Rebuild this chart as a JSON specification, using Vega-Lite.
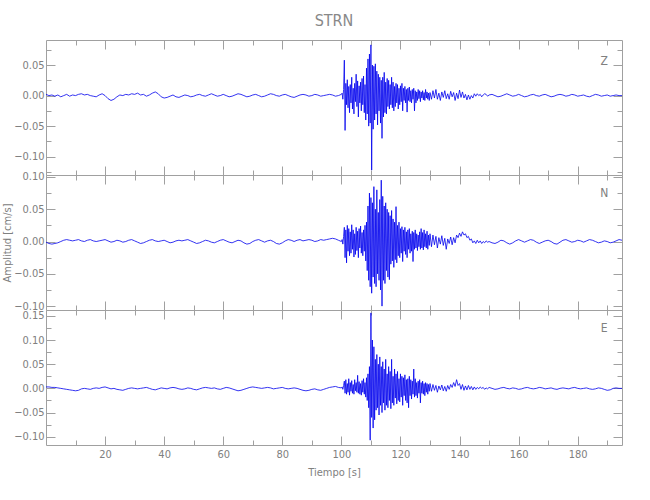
{
"$schema": "https://vega.github.io/schema/vega-lite/v6.json",
"padding": {"left": 1, "right": 27, "top": 13, "bottom": 5},
"spacing": 0,
"bounds": "flush",
"title": {"text": "STRN", "fontSize": 16, "fontWeight": "normal", "font": "Liberation Sans Narrow, DejaVu Sans Condensed, sans-serif", "color": "#888888", "anchor": "middle", "frame": "group", "offset": 10},
"config": {
  "view": {"stroke": "#a0a0a0", "strokeWidth": 1},
  "axis": {"domain": false, "grid": false, "tickColor": "#a0a0a0", "tickWidth": 1, "labelColor": "#808080", "labelFont": "Liberation Sans Narrow, DejaVu Sans Condensed, sans-serif", "labelFontSize": 11, "titleFont": "Liberation Sans Narrow, DejaVu Sans Condensed, sans-serif", "titleFontSize": 11, "titleFontWeight": "normal", "titleColor": "#808080", "labelOverlap": false, "labelFlush": false},
  "text": {"font": "Liberation Sans Narrow, DejaVu Sans Condensed, sans-serif"}
},
"datasets": {"w": [
{"t":0,"z":0.002,"n":-0.001,"e":0.003},
{"t":1,"z":0.000,"n":-0.003,"e":0.003},
{"t":2,"z":0.001,"n":-0.004,"e":0.002},
{"t":3,"z":-0.001,"n":-0.003,"e":0.002},
{"t":4,"z":0.001,"n":-0.002,"e":0.001},
{"t":5,"z":-0.002,"n":0.000,"e":0.000},
{"t":6,"z":0.000,"n":0.002,"e":-0.001},
{"t":7,"z":0.002,"n":0.003,"e":-0.002},
{"t":8,"z":-0.001,"n":0.002,"e":-0.003},
{"t":9,"z":0.001,"n":0.001,"e":-0.004},
{"t":10,"z":0.000,"n":0.002,"e":-0.005},
{"t":11,"z":0.002,"n":0.003,"e":-0.004},
{"t":12,"z":0.003,"n":0.001,"e":-0.001},
{"t":13,"z":0.001,"n":0.000,"e":0.000},
{"t":14,"z":0.002,"n":0.002,"e":-0.001},
{"t":15,"z":0.000,"n":0.003,"e":-0.002},
{"t":16,"z":-0.001,"n":0.001,"e":0.000},
{"t":17,"z":-0.002,"n":0.000,"e":0.001},
{"t":18,"z":0.001,"n":0.001,"e":0.000},
{"t":19,"z":0.003,"n":0.002,"e":0.002},
{"t":20,"z":0.000,"n":0.003,"e":0.003},
{"t":21,"z":-0.005,"n":0.001,"e":0.001},
{"t":22,"z":-0.008,"n":-0.001,"e":-0.001},
{"t":23,"z":-0.006,"n":0.000,"e":0.000},
{"t":24,"z":-0.002,"n":0.002,"e":-0.002},
{"t":25,"z":0.001,"n":0.001,"e":-0.003},
{"t":26,"z":0.000,"n":-0.001,"e":-0.004},
{"t":27,"z":0.002,"n":0.000,"e":-0.002},
{"t":28,"z":0.001,"n":0.002,"e":0.000},
{"t":29,"z":0.003,"n":0.003,"e":0.001},
{"t":30,"z":0.002,"n":0.001,"e":0.000},
{"t":31,"z":0.004,"n":-0.001,"e":-0.001},
{"t":32,"z":0.001,"n":-0.003,"e":0.000},
{"t":33,"z":0.002,"n":-0.002,"e":0.001},
{"t":34,"z":-0.001,"n":0.000,"e":0.002},
{"t":35,"z":0.001,"n":0.002,"e":0.000},
{"t":36,"z":0.004,"n":0.003,"e":-0.002},
{"t":37,"z":0.006,"n":0.001,"e":-0.003},
{"t":38,"z":0.003,"n":0.000,"e":-0.001},
{"t":39,"z":-0.002,"n":0.001,"e":0.001},
{"t":40,"z":-0.004,"n":0.002,"e":0.000},
{"t":41,"z":-0.003,"n":0.000,"e":-0.001},
{"t":42,"z":-0.001,"n":-0.002,"e":0.001},
{"t":43,"z":0.001,"n":-0.001,"e":0.002},
{"t":44,"z":-0.002,"n":0.001,"e":0.001},
{"t":45,"z":-0.003,"n":0.002,"e":-0.001},
{"t":46,"z":-0.001,"n":0.001,"e":-0.002},
{"t":47,"z":0.001,"n":0.002,"e":-0.001},
{"t":48,"z":0.000,"n":0.003,"e":0.001},
{"t":49,"z":-0.002,"n":0.001,"e":0.000},
{"t":50,"z":-0.001,"n":-0.001,"e":-0.002},
{"t":51,"z":0.001,"n":-0.003,"e":-0.003},
{"t":52,"z":0.002,"n":-0.002,"e":-0.001},
{"t":53,"z":0.000,"n":0.000,"e":0.001},
{"t":54,"z":-0.001,"n":0.002,"e":0.002},
{"t":55,"z":0.001,"n":0.001,"e":0.001},
{"t":56,"z":0.003,"n":-0.001,"e":0.000},
{"t":57,"z":0.001,"n":-0.002,"e":0.001},
{"t":58,"z":-0.001,"n":0.000,"e":-0.001},
{"t":59,"z":0.000,"n":0.002,"e":-0.002},
{"t":60,"z":0.002,"n":0.003,"e":0.000},
{"t":61,"z":0.000,"n":0.001,"e":0.002},
{"t":62,"z":-0.002,"n":-0.001,"e":0.001},
{"t":63,"z":-0.001,"n":-0.002,"e":-0.001},
{"t":64,"z":0.001,"n":0.000,"e":-0.003},
{"t":65,"z":0.003,"n":0.002,"e":-0.005},
{"t":66,"z":0.002,"n":0.001,"e":-0.004},
{"t":67,"z":0.000,"n":-0.002,"e":-0.002},
{"t":68,"z":-0.002,"n":-0.004,"e":0.000},
{"t":69,"z":-0.001,"n":-0.003,"e":0.002},
{"t":70,"z":0.001,"n":0.000,"e":0.003},
{"t":71,"z":0.002,"n":0.002,"e":0.002},
{"t":72,"z":0.000,"n":0.003,"e":0.001},
{"t":73,"z":-0.002,"n":0.001,"e":0.000},
{"t":74,"z":-0.001,"n":-0.001,"e":0.001},
{"t":75,"z":0.001,"n":0.001,"e":0.002},
{"t":76,"z":0.003,"n":0.002,"e":0.001},
{"t":77,"z":0.002,"n":0.000,"e":-0.001},
{"t":78,"z":0.000,"n":-0.003,"e":0.000},
{"t":79,"z":-0.001,"n":-0.004,"e":0.001},
{"t":80,"z":0.001,"n":-0.002,"e":0.002},
{"t":81,"z":0.002,"n":0.001,"e":0.000},
{"t":82,"z":0.000,"n":0.003,"e":-0.001},
{"t":83,"z":-0.002,"n":0.002,"e":0.000},
{"t":84,"z":-0.003,"n":0.000,"e":0.001},
{"t":85,"z":-0.001,"n":0.002,"e":0.000},
{"t":86,"z":0.001,"n":0.003,"e":-0.002},
{"t":87,"z":0.002,"n":0.001,"e":-0.004},
{"t":88,"z":0.001,"n":0.002,"e":-0.005},
{"t":89,"z":-0.001,"n":0.003,"e":-0.004},
{"t":90,"z":0.000,"n":0.002,"e":-0.002},
{"t":91,"z":0.002,"n":0.000,"e":-0.001},
{"t":92,"z":0.001,"n":0.001,"e":-0.003},
{"t":93,"z":-0.001,"n":0.003,"e":-0.004},
{"t":94,"z":0.000,"n":0.002,"e":-0.002},
{"t":95,"z":0.001,"n":0.003,"e":0.000},
{"t":96,"z":0.002,"n":0.004,"e":0.002},
{"t":97,"z":0.001,"n":0.005,"e":0.003},
{"t":98,"z":-0.001,"n":0.004,"e":0.004},
{"t":99,"z":0.000,"n":0.002,"e":0.002},
{"t":100,"z":0.002,"n":0.000,"e":0.001},
{"t":100.25,"z":0.004,"n":0.003,"e":0.003},
{"t":100.5,"z":-0.006,"n":-0.004,"e":-0.002},
{"t":100.75,"z":0.010,"n":0.008,"e":0.006},
{"t":101,"z":0.058,"n":0.022,"e":0.015},
{"t":101.25,"z":-0.057,"n":-0.025,"e":-0.010},
{"t":101.5,"z":0.020,"n":0.018,"e":0.018},
{"t":101.75,"z":-0.015,"n":-0.033,"e":-0.012},
{"t":102,"z":0.026,"n":0.025,"e":0.010},
{"t":102.25,"z":-0.020,"n":-0.015,"e":-0.008},
{"t":102.5,"z":0.015,"n":0.020,"e":0.020},
{"t":102.75,"z":-0.028,"n":-0.022,"e":-0.014},
{"t":103,"z":0.018,"n":0.015,"e":0.012},
{"t":103.25,"z":-0.012,"n":-0.018,"e":-0.006},
{"t":103.5,"z":0.030,"n":0.026,"e":0.016},
{"t":103.75,"z":-0.022,"n":-0.012,"e":-0.010},
{"t":104,"z":0.012,"n":0.018,"e":0.008},
{"t":104.25,"z":-0.030,"n":-0.024,"e":-0.012},
{"t":104.5,"z":0.020,"n":0.012,"e":0.018},
{"t":104.75,"z":-0.010,"n":-0.020,"e":-0.005},
{"t":105,"z":0.035,"n":0.022,"e":0.012},
{"t":105.25,"z":-0.018,"n":-0.014,"e":-0.008},
{"t":105.5,"z":0.024,"n":0.016,"e":0.027},
{"t":105.75,"z":-0.035,"n":-0.025,"e":-0.010},
{"t":106,"z":0.016,"n":0.020,"e":0.014},
{"t":106.25,"z":-0.012,"n":-0.010,"e":-0.012},
{"t":106.5,"z":0.022,"n":0.024,"e":0.010},
{"t":106.75,"z":-0.025,"n":-0.018,"e":-0.014},
{"t":107,"z":0.028,"n":0.014,"e":0.016},
{"t":107.25,"z":-0.015,"n":-0.022,"e":-0.008},
{"t":107.5,"z":0.032,"n":0.018,"e":0.020},
{"t":107.75,"z":-0.028,"n":-0.015,"e":-0.012},
{"t":108,"z":0.018,"n":0.025,"e":0.012},
{"t":108.25,"z":-0.040,"n":-0.030,"e":-0.018},
{"t":108.5,"z":0.045,"n":0.030,"e":0.022},
{"t":108.75,"z":-0.030,"n":-0.045,"e":-0.025},
{"t":109,"z":0.060,"n":0.055,"e":0.030},
{"t":109.25,"z":-0.050,"n":-0.060,"e":-0.040},
{"t":109.5,"z":0.068,"n":0.075,"e":0.045},
{"t":109.75,"z":-0.045,"n":-0.070,"e":-0.107},
{"t":110,"z":0.083,"n":0.068,"e":0.156},
{"t":110.25,"z":-0.122,"n":-0.080,"e":-0.060},
{"t":110.5,"z":0.050,"n":0.060,"e":0.100},
{"t":110.75,"z":-0.055,"n":-0.055,"e":-0.082},
{"t":111,"z":0.048,"n":0.085,"e":0.086},
{"t":111.25,"z":-0.040,"n":-0.065,"e":-0.065},
{"t":111.5,"z":0.052,"n":0.050,"e":0.060},
{"t":111.75,"z":-0.030,"n":-0.070,"e":-0.045},
{"t":112,"z":0.040,"n":0.080,"e":0.070},
{"t":112.25,"z":-0.048,"n":-0.050,"e":-0.040},
{"t":112.5,"z":0.035,"n":0.045,"e":0.050},
{"t":112.75,"z":-0.025,"n":-0.060,"e":-0.055},
{"t":113,"z":0.030,"n":0.065,"e":0.065},
{"t":113.25,"z":-0.045,"n":-0.075,"e":-0.035},
{"t":113.5,"z":0.025,"n":0.095,"e":0.045},
{"t":113.75,"z":-0.070,"n":-0.100,"e":-0.050},
{"t":114,"z":0.030,"n":0.070,"e":0.055},
{"t":114.25,"z":-0.035,"n":-0.060,"e":-0.030},
{"t":114.5,"z":0.038,"n":0.055,"e":0.040},
{"t":114.75,"z":-0.028,"n":-0.065,"e":-0.045},
{"t":115,"z":0.022,"n":0.060,"e":0.060},
{"t":115.25,"z":-0.030,"n":-0.045,"e":-0.035},
{"t":115.5,"z":0.028,"n":0.050,"e":0.030},
{"t":115.75,"z":-0.018,"n":-0.055,"e":-0.040},
{"t":116,"z":0.025,"n":0.045,"e":0.045},
{"t":116.25,"z":-0.022,"n":-0.059,"e":-0.025},
{"t":116.5,"z":0.018,"n":0.040,"e":0.035},
{"t":116.75,"z":-0.015,"n":-0.035,"e":-0.042},
{"t":117,"z":0.030,"n":0.048,"e":0.060},
{"t":117.25,"z":-0.020,"n":-0.030,"e":-0.030},
{"t":117.5,"z":0.022,"n":0.035,"e":0.025},
{"t":117.75,"z":-0.025,"n":-0.040,"e":-0.035},
{"t":118,"z":0.015,"n":0.030,"e":0.040},
{"t":118.25,"z":-0.018,"n":-0.028,"e":-0.020},
{"t":118.5,"z":0.020,"n":0.054,"e":0.030},
{"t":118.75,"z":-0.012,"n":-0.033,"e":-0.032},
{"t":119,"z":0.018,"n":0.025,"e":0.035},
{"t":119.25,"z":-0.022,"n":-0.022,"e":-0.025},
{"t":119.5,"z":0.012,"n":0.030,"e":0.020},
{"t":119.75,"z":-0.015,"n":-0.025,"e":-0.028},
{"t":120,"z":0.016,"n":0.020,"e":0.030},
{"t":120.25,"z":-0.010,"n":-0.018,"e":-0.018},
{"t":120.5,"z":0.020,"n":0.023,"e":0.025},
{"t":120.75,"z":-0.025,"n":-0.031,"e":-0.035},
{"t":121,"z":0.012,"n":0.018,"e":0.022},
{"t":121.25,"z":-0.008,"n":-0.015,"e":-0.015},
{"t":121.5,"z":0.015,"n":0.022,"e":0.028},
{"t":121.75,"z":-0.012,"n":-0.020,"e":-0.025},
{"t":122,"z":0.010,"n":0.015,"e":0.018},
{"t":122.25,"z":-0.027,"n":-0.025,"e":-0.030},
{"t":122.5,"z":0.012,"n":0.018,"e":0.020},
{"t":122.75,"z":-0.008,"n":-0.012,"e":-0.040},
{"t":123,"z":0.014,"n":0.020,"e":0.025},
{"t":123.25,"z":-0.010,"n":-0.018,"e":-0.015},
{"t":123.5,"z":0.008,"n":0.012,"e":0.018},
{"t":123.75,"z":-0.012,"n":-0.015,"e":-0.022},
{"t":124,"z":0.010,"n":0.016,"e":0.015},
{"t":124.25,"z":-0.006,"n":-0.031,"e":-0.012},
{"t":124.5,"z":0.012,"n":0.014,"e":0.040},
{"t":124.75,"z":-0.025,"n":-0.012,"e":-0.018},
{"t":125,"z":0.008,"n":0.018,"e":0.020},
{"t":125.25,"z":-0.012,"n":-0.010,"e":-0.015},
{"t":125.5,"z":0.006,"n":0.012,"e":0.012},
{"t":125.75,"z":-0.008,"n":-0.014,"e":-0.020},
{"t":126,"z":0.010,"n":0.010,"e":0.015},
{"t":126.25,"z":-0.005,"n":-0.008,"e":-0.010},
{"t":126.5,"z":0.008,"n":0.015,"e":0.018},
{"t":126.75,"z":-0.010,"n":-0.012,"e":-0.030},
{"t":127,"z":0.006,"n":0.020,"e":0.012},
{"t":127.25,"z":-0.004,"n":-0.010,"e":-0.010},
{"t":127.5,"z":0.008,"n":0.014,"e":0.015},
{"t":127.75,"z":-0.007,"n":-0.013,"e":-0.012},
{"t":128,"z":0.005,"n":0.018,"e":0.010},
{"t":128.25,"z":-0.008,"n":-0.008,"e":-0.015},
{"t":128.5,"z":0.010,"n":0.012,"e":0.012},
{"t":128.75,"z":-0.004,"n":-0.010,"e":-0.008},
{"t":129,"z":0.006,"n":0.016,"e":0.010},
{"t":129.25,"z":-0.006,"n":-0.012,"e":-0.012},
{"t":129.5,"z":0.004,"n":0.010,"e":0.008},
{"t":129.75,"z":-0.008,"n":-0.006,"e":-0.006},
{"t":130,"z":0.005,"n":0.012,"e":0.010},
{"t":130.5,"z":-0.006,"n":-0.008,"e":-0.006},
{"t":131,"z":0.008,"n":0.010,"e":0.008},
{"t":131.5,"z":-0.004,"n":-0.005,"e":-0.004},
{"t":132,"z":0.010,"n":0.008,"e":0.006},
{"t":132.5,"z":-0.006,"n":-0.010,"e":-0.008},
{"t":133,"z":0.004,"n":0.006,"e":0.005},
{"t":133.5,"z":-0.008,"n":-0.004,"e":-0.003},
{"t":134,"z":0.006,"n":0.009,"e":0.007},
{"t":134.5,"z":-0.003,"n":-0.006,"e":-0.005},
{"t":135,"z":0.008,"n":0.005,"e":0.004},
{"t":135.5,"z":-0.005,"n":-0.012,"e":-0.006},
{"t":136,"z":0.003,"n":0.004,"e":0.006},
{"t":136.5,"z":-0.006,"n":-0.003,"e":-0.002},
{"t":137,"z":0.007,"n":0.007,"e":0.008},
{"t":137.5,"z":-0.002,"n":-0.005,"e":0.002},
{"t":138,"z":0.005,"n":0.006,"e":0.012},
{"t":138.5,"z":-0.008,"n":-0.002,"e":0.004},
{"t":139,"z":0.004,"n":0.010,"e":0.018},
{"t":139.5,"z":-0.005,"n":0.006,"e":0.006},
{"t":140,"z":0.009,"n":0.013,"e":0.010},
{"t":140.5,"z":-0.003,"n":0.008,"e":-0.002},
{"t":141,"z":0.006,"n":0.015,"e":0.008},
{"t":141.5,"z":-0.004,"n":0.010,"e":-0.004},
{"t":142,"z":0.002,"n":0.012,"e":0.005},
{"t":142.5,"z":-0.007,"n":0.006,"e":-0.003},
{"t":143,"z":0.001,"n":0.008,"e":0.006},
{"t":143.5,"z":-0.006,"n":0.002,"e":-0.002},
{"t":144,"z":0.000,"n":0.004,"e":0.004},
{"t":144.5,"z":-0.004,"n":-0.002,"e":-0.003},
{"t":145,"z":0.003,"n":0.001,"e":0.003},
{"t":145.5,"z":-0.001,"n":-0.003,"e":-0.002},
{"t":146,"z":0.003,"n":0.002,"e":0.002},
{"t":146.5,"z":0.000,"n":-0.002,"e":-0.001},
{"t":147,"z":0.002,"n":0.001,"e":0.003},
{"t":147.5,"z":-0.002,"n":-0.003,"e":0.000},
{"t":148,"z":0.001,"n":0.000,"e":0.002},
{"t":148.5,"z":0.003,"n":-0.002,"e":-0.002},
{"t":149,"z":0.002,"n":0.001,"e":0.001},
{"t":149.5,"z":-0.001,"n":-0.001,"e":-0.001},
{"t":150,"z":0.001,"n":0.000,"e":0.002},
{"t":151,"z":0.002,"n":-0.002,"e":0.000},
{"t":152,"z":0.000,"n":-0.003,"e":-0.002},
{"t":153,"z":-0.002,"n":-0.001,"e":-0.001},
{"t":154,"z":-0.001,"n":0.002,"e":0.001},
{"t":155,"z":0.001,"n":0.001,"e":0.002},
{"t":156,"z":0.003,"n":-0.002,"e":0.000},
{"t":157,"z":0.001,"n":-0.004,"e":-0.001},
{"t":158,"z":-0.001,"n":-0.002,"e":0.001},
{"t":159,"z":0.000,"n":0.001,"e":0.000},
{"t":160,"z":0.002,"n":0.003,"e":-0.002},
{"t":161,"z":0.000,"n":0.001,"e":-0.001},
{"t":162,"z":-0.002,"n":-0.001,"e":0.001},
{"t":163,"z":-0.001,"n":0.001,"e":0.002},
{"t":164,"z":0.001,"n":0.003,"e":0.000},
{"t":165,"z":0.002,"n":0.002,"e":-0.001},
{"t":166,"z":0.000,"n":-0.001,"e":0.000},
{"t":167,"z":-0.001,"n":-0.003,"e":0.002},
{"t":168,"z":0.001,"n":-0.001,"e":0.001},
{"t":169,"z":0.002,"n":0.001,"e":-0.001},
{"t":170,"z":0.000,"n":0.002,"e":0.000},
{"t":171,"z":-0.002,"n":0.000,"e":0.001},
{"t":172,"z":-0.001,"n":-0.003,"e":-0.001},
{"t":173,"z":0.001,"n":-0.004,"e":-0.002},
{"t":174,"z":0.002,"n":-0.001,"e":0.000},
{"t":175,"z":0.001,"n":0.002,"e":0.001},
{"t":176,"z":-0.001,"n":0.003,"e":0.000},
{"t":177,"z":0.000,"n":0.001,"e":-0.001},
{"t":178,"z":0.002,"n":-0.001,"e":0.001},
{"t":179,"z":0.001,"n":0.000,"e":0.002},
{"t":180,"z":-0.001,"n":0.002,"e":0.000},
{"t":181,"z":0.000,"n":0.001,"e":-0.001},
{"t":182,"z":0.001,"n":-0.001,"e":0.000},
{"t":183,"z":-0.001,"n":0.001,"e":0.001},
{"t":184,"z":-0.002,"n":0.003,"e":-0.001},
{"t":185,"z":0.000,"n":0.002,"e":-0.002},
{"t":186,"z":0.002,"n":0.000,"e":-0.001},
{"t":187,"z":0.001,"n":-0.002,"e":0.001},
{"t":188,"z":-0.001,"n":-0.001,"e":0.000},
{"t":189,"z":0.000,"n":0.001,"e":-0.002},
{"t":190,"z":0.001,"n":0.000,"e":-0.004},
{"t":191,"z":-0.001,"n":-0.002,"e":-0.003},
{"t":192,"z":0.000,"n":-0.001,"e":0.000},
{"t":193,"z":0.001,"n":0.001,"e":0.001},
{"t":194,"z":0.000,"n":0.003,"e":0.000},
{"t":195,"z":0.000,"n":0.002,"e":0.000}
]},
"vconcat": [
{
  "width": 576, "height": 135,
  "data": {"name": "w"},
  "layer": [
    {"mark": {"type": "line", "color": "#0000ee", "strokeWidth": 0.8},
     "encoding": {
      "x": {"field": "t", "type": "quantitative", "scale": {"domain": [0, 195], "nice": false, "zero": false},
            "axis": {"orient": "bottom", "values": [10,20,30,40,50,60,70,80,90,100,110,120,130,140,150,160,170,180,190], "labels": false, "title": null,
                     "tickSize": {"condition": {"test": "datum.value % 20 == 0", "value": -9}, "value": -5}}},
      "y": {"field": "z", "type": "quantitative", "scale": {"domain": [-0.13, 0.091], "nice": false, "zero": false},
            "axis": {"orient": "left", "values": [-0.125,-0.1,-0.075,-0.05,-0.025,0,0.025,0.05,0.075], "format": ".2f", "title": null,
                     "labelExpr": "abs(round(datum.value*40)) % 2 == 0 ? datum.label : ''", "labelPadding": 11,
                     "tickSize": {"condition": {"test": "abs(round(datum.value*40)) % 2 == 0", "value": -9}, "value": -5}}}
     }},
    {"data": {"values": [{"c": "Z"}]},
     "mark": {"type": "text", "fontSize": 12, "color": "#808080"},
     "encoding": {
      "text": {"field": "c"},
      "x": {"datum": 189, "type": "quantitative",
            "axis": {"orient": "top", "values": [10,20,30,40,50,60,70,80,90,100,110,120,130,140,150,160,170,180,190], "labels": false, "title": null,
                     "tickSize": {"condition": {"test": "datum.value % 20 == 0", "value": -9}, "value": -5}}},
      "y": {"datum": 0.057, "type": "quantitative",
            "axis": {"orient": "right", "values": [-0.125,-0.1,-0.075,-0.05,-0.025,0,0.025,0.05,0.075], "labels": false, "title": null,
                     "tickSize": {"condition": {"test": "abs(round(datum.value*40)) % 2 == 0", "value": -9}, "value": -5}}}
     }}
  ],
  "resolve": {"axis": {"x": "independent", "y": "independent"}}
},
{
  "width": 576, "height": 135,
  "data": {"name": "w"},
  "layer": [
    {"mark": {"type": "line", "color": "#0000ee", "strokeWidth": 0.8},
     "encoding": {
      "x": {"field": "t", "type": "quantitative", "scale": {"domain": [0, 195], "nice": false, "zero": false},
            "axis": {"orient": "bottom", "values": [10,20,30,40,50,60,70,80,90,100,110,120,130,140,150,160,170,180,190], "labels": false, "title": null,
                     "tickSize": {"condition": {"test": "datum.value % 20 == 0", "value": -9}, "value": -5}}},
      "y": {"field": "n", "type": "quantitative", "scale": {"domain": [-0.106, 0.103], "nice": false, "zero": false},
            "axis": {"orient": "left", "values": [-0.1,-0.075,-0.05,-0.025,0,0.025,0.05,0.075,0.1], "format": ".2f", "title": "Amplitud [cm/s]", "titlePadding": 1,
                     "labelExpr": "abs(round(datum.value*40)) % 2 == 0 ? datum.label : ''", "labelPadding": 11,
                     "tickSize": {"condition": {"test": "abs(round(datum.value*40)) % 2 == 0", "value": -9}, "value": -5}}}
     }},
    {"data": {"values": [{"c": "N"}]},
     "mark": {"type": "text", "fontSize": 12, "color": "#808080"},
     "encoding": {
      "text": {"field": "c"},
      "x": {"datum": 189, "type": "quantitative",
            "axis": {"orient": "top", "values": [10,20,30,40,50,60,70,80,90,100,110,120,130,140,150,160,170,180,190], "labels": false, "title": null,
                     "tickSize": {"condition": {"test": "datum.value % 20 == 0", "value": -9}, "value": -5}}},
      "y": {"datum": 0.075, "type": "quantitative",
            "axis": {"orient": "right", "values": [-0.1,-0.075,-0.05,-0.025,0,0.025,0.05,0.075,0.1], "labels": false, "title": null,
                     "tickSize": {"condition": {"test": "abs(round(datum.value*40)) % 2 == 0", "value": -9}, "value": -5}}}
     }}
  ],
  "resolve": {"axis": {"x": "independent", "y": "independent"}}
},
{
  "width": 576, "height": 135,
  "data": {"name": "w"},
  "layer": [
    {"mark": {"type": "line", "color": "#0000ee", "strokeWidth": 0.8},
     "encoding": {
      "x": {"field": "t", "type": "quantitative", "scale": {"domain": [0, 195], "nice": false, "zero": false},
            "axis": {"orient": "bottom", "values": [10,20,30,40,50,60,70,80,90,100,110,120,130,140,150,160,170,180,190], "title": "Tiempo [s]", "titlePadding": 3,
                     "labelExpr": "datum.value % 20 == 0 ? datum.label : ''", "labelPadding": 12,
                     "tickSize": {"condition": {"test": "datum.value % 20 == 0", "value": -9}, "value": -5}}},
      "y": {"field": "e", "type": "quantitative", "scale": {"domain": [-0.117, 0.162], "nice": false, "zero": false},
            "axis": {"orient": "left", "values": [-0.1,-0.075,-0.05,-0.025,0,0.025,0.05,0.075,0.1,0.125,0.15], "format": ".2f", "title": null,
                     "labelExpr": "abs(round(datum.value*40)) % 2 == 0 ? datum.label : ''", "labelPadding": 11,
                     "tickSize": {"condition": {"test": "abs(round(datum.value*40)) % 2 == 0", "value": -9}, "value": -5}}}
     }},
    {"data": {"values": [{"c": "E"}]},
     "mark": {"type": "text", "fontSize": 12, "color": "#808080"},
     "encoding": {
      "text": {"field": "c"},
      "x": {"datum": 189, "type": "quantitative",
            "axis": {"orient": "top", "values": [10,20,30,40,50,60,70,80,90,100,110,120,130,140,150,160,170,180,190], "labels": false, "title": null,
                     "tickSize": {"condition": {"test": "datum.value % 20 == 0", "value": -9}, "value": -5}}},
      "y": {"datum": 0.125, "type": "quantitative",
            "axis": {"orient": "right", "values": [-0.1,-0.075,-0.05,-0.025,0,0.025,0.05,0.075,0.1,0.125,0.15], "labels": false, "title": null,
                     "tickSize": {"condition": {"test": "abs(round(datum.value*40)) % 2 == 0", "value": -9}, "value": -5}}}
     }}
  ],
  "resolve": {"axis": {"x": "independent", "y": "independent"}}
}
]
}
